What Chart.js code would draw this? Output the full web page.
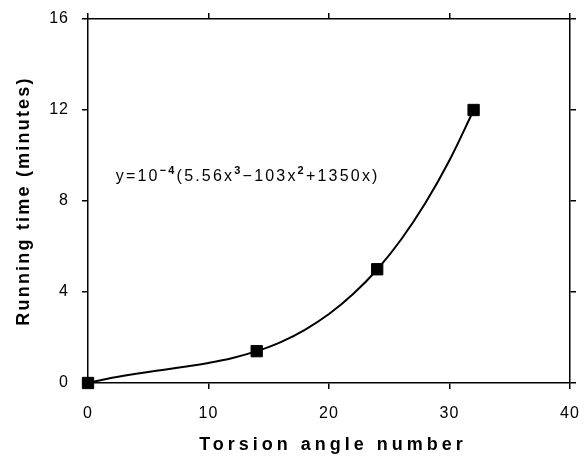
<!DOCTYPE html>
<html>
<head>
<meta charset="utf-8">
<script src="https://cdn.jsdelivr.net/npm/chart.js@4.4.0/dist/chart.umd.min.js"></script>
<style>
  body { margin: 0; background: #fff; }
  #wrap { width: 585px; height: 461px; }
</style>
</head>
<body>
<div id="wrap"><canvas id="chart"></canvas></div>
<script>
// measured points
const torsionAngles = [0, 14, 24, 32];
const runningTimes = [0, 1.4, 5.0, 12.0];

// fitted curve
const curveX = [0, 2, 4, 6, 8, 10, 12, 14, 16, 18, 20, 22, 24, 26, 28, 30, 32];
const curveY = [0, 0.23, 0.41, 0.56, 0.71, 0.88, 1.10, 1.40, 1.80, 2.34, 3.03, 3.91, 4.99, 6.32, 7.91, 9.79, 11.99];

const xTicks = [0, 10, 20, 30, 40];
const yTicks = [0, 4, 8, 12, 16];
const xTitle = 'Torsion angle number';
const yTitle = 'Running time (minutes)';
// equation pieces: [text, superscript?]
const equation = [['y=10', false], ['\u22124', true], ['(5.56x', false], ['3', true],
  ['\u2212103x', false], ['2', true], ['+1350x)', false]];

const font = "'Liberation Sans', Arial, sans-serif";

const spacing = {
  id: 'spacing',
  beforeDraw(chart) { chart.ctx.letterSpacing = '1px'; },
  afterDraw(chart) { chart.ctx.letterSpacing = '0px'; }
};

const labels = {
  id: 'labels',
  afterDraw(chart) {
    const ctx = chart.ctx;
    const area = chart.chartArea;
    ctx.save();
    ctx.fillStyle = '#000';
    ctx.textAlign = 'center';
    ctx.textBaseline = 'middle';

    // axis titles
    ctx.font = 'bold 18px ' + font;
    ctx.letterSpacing = '4px';
    ctx.fillText(xTitle, (area.left + area.right) / 2 + 4, 445);
    ctx.save();
    ctx.translate(24, (area.top + area.bottom) / 2);
    ctx.rotate(-Math.PI / 2);
    ctx.letterSpacing = '2.2px';
    ctx.fillText(yTitle, 0, 0);
    ctx.restore();

    // equation
    let x = chart.scales.x.getPixelForValue(2.3);
    const y = chart.scales.y.getPixelForValue(8.9);
    ctx.textAlign = 'left';
    ctx.textBaseline = 'alphabetic';
    ctx.letterSpacing = '2.2px';
    equation.forEach(([t, sup]) => {
      ctx.font = (sup ? 'bold 11px ' : '16px ') + font;
      ctx.fillText(t, x, sup ? y - 7 : y);
      x += ctx.measureText(t).width;
    });
    ctx.restore();
  }
};

function noPad(s) {
  s.paddingLeft = 0;
  s.paddingRight = 0;
  s.paddingTop = 0;
  s.paddingBottom = 0;
}

function outerAxis(position, size) {
  return {
    type: 'linear',
    position: position,
    min: 0,
    max: position === 'top' ? 40 : 16,
    afterBuildTicks: s => { s.ticks = (position === 'top' ? xTicks : yTicks).map(v => ({ value: v })); },
    ticks: { display: false },
    grid: { drawOnChartArea: false, color: '#000', lineWidth: 1.5, tickLength: 6 },
    border: { color: '#000', width: 1.5 },
    afterFit: s => { noPad(s); if (position === 'top') s.height = size; else s.width = size; }
  };
}

new Chart(document.getElementById('chart'), {
  type: 'scatter',
  data: {
    datasets: [
      {
        type: 'line',
        data: curveX.map((v, i) => ({ x: v, y: curveY[i] })),
        borderColor: '#000',
        borderWidth: 2,
        pointRadius: 0,
        tension: 0.4,
        fill: false
      },
      {
        data: torsionAngles.map((v, i) => ({ x: v, y: runningTimes[i] })),
        pointStyle: 'rect',
        pointRadius: 8,
        backgroundColor: '#000',
        borderColor: '#000',
        clip: false
      }
    ]
  },
  options: {
    responsive: true,
    maintainAspectRatio: false,
    animation: false,
    layout: { padding: 0 },
    plugins: { legend: { display: false }, tooltip: { enabled: false } },
    scales: {
      x: {
        type: 'linear',
        position: 'bottom',
        min: 0,
        max: 40,
        afterBuildTicks: s => { s.ticks = xTicks.map(v => ({ value: v })); },
        ticks: { color: '#000', font: { family: font, size: 16 }, padding: 15 },
        grid: { drawOnChartArea: false, color: '#000', lineWidth: 1.5, tickLength: 6 },
        border: { color: '#000', width: 1.5 },
        afterFit: s => { noPad(s); s.height = 78; }
      },
      y: {
        type: 'linear',
        position: 'left',
        min: 0,
        max: 16,
        afterBuildTicks: s => { s.ticks = yTicks.map(v => ({ value: v })); },
        ticks: { color: '#000', font: { family: font, size: 16 }, padding: 13 },
        grid: { drawOnChartArea: false, color: '#000', lineWidth: 1.5, tickLength: 6 },
        border: { color: '#000', width: 1.5 },
        afterFit: s => { noPad(s); s.width = 88; }
      },
      x2: outerAxis('top', 19),
      y2: outerAxis('right', 15)
    }
  },
  plugins: [spacing, labels]
});
</script>
</body>
</html>
